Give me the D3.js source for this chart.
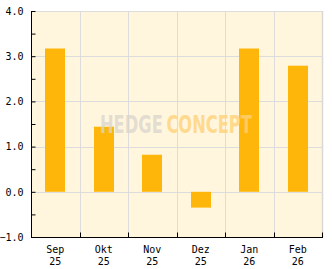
<!DOCTYPE html>
<html>
<head>
<meta charset="utf-8">
<script src="https://cdn.jsdelivr.net/npm/d3@7"></script>
<style>
  body { margin: 0; background: #fff; }
  svg { display: block; }
</style>
</head>
<body>
<svg id="chart"></svg>
<script>
// monthly values
var months = ["Sep", "Okt", "Nov", "Dez", "Jan", "Feb"];
var years = ["25", "25", "25", "25", "26", "26"];
var values = [3.17, 1.44, 0.82, -0.35, 3.17, 2.79];
var yTicks = [-1, 0, 1, 2, 3, 4];

(function() {
    var width = 332, height = 269;
    var margin = { top: 11, right: 10, bottom: 32, left: 31 };
    var x0 = margin.left, x1 = width - margin.right,
        y0 = margin.top, y1 = height - margin.bottom;

    var svg = d3.select("#chart")
        .attr("width", width)
        .attr("height", height);

    var x = d3.scaleBand()
        .domain(months)
        .range([x0, x1])
        .paddingInner(0.59)
        .paddingOuter(0.295);
    var step = (x1 - x0) / months.length;

    var y = d3.scaleLinear()
        .domain([-1, 4])
        .range([y1, y0]);

    // plot background
    svg.append("rect")
        .attr("x", x0).attr("y", y0)
        .attr("width", x1 - x0).attr("height", y1 - y0)
        .attr("fill", "#fff6dd");

    // grid
    var bounds = d3.range(1, months.length).map(i => x0 + i * step);
    svg.append("g").selectAll("line")
        .data(bounds).enter().append("line")
        .attr("x1", d => Math.round(d) + 0.5).attr("x2", d => Math.round(d) + 0.5)
        .attr("y1", y0).attr("y2", y1)
        .attr("stroke", "#dcdcdc");
    svg.append("g").selectAll("line")
        .data(yTicks.slice(1)).enter().append("line")
        .attr("x1", x0).attr("x2", x1)
        .attr("y1", d => Math.round(y(d)) + 0.5).attr("y2", d => Math.round(y(d)) + 0.5)
        .attr("stroke", "#dcdcdc");
    // right border
    svg.append("line")
        .attr("x1", x1 + 0.5).attr("x2", x1 + 0.5)
        .attr("y1", y0).attr("y2", y1)
        .attr("stroke", "#d8d8d8").attr("stroke-width", 1.5);

    // bars
    svg.append("g").selectAll("rect")
        .data(values).enter().append("rect")
        .attr("x", (d, i) => Math.round(x(months[i])))
        .attr("width", Math.round(x.bandwidth()))
        .attr("y", d => y(Math.max(0, d)))
        .attr("height", d => Math.abs(y(d) - y(0)))
        .attr("fill", "#ffb60b");

    // watermark, squeezed to fit 100..252
    var wmG = svg.append("g");
    var wm = wmG.append("text")
        .attr("x", 0).attr("y", 0)
        .attr("font-family", "'DejaVu Sans Condensed', 'DejaVu Sans', sans-serif")
        .attr("font-weight", "bold")
        .attr("font-size", 25);
    wm.append("tspan")
        .attr("fill", "#d9d5cc").attr("fill-opacity", 0.75)
        .text("HEDGE");
    wm.append("tspan")
        .attr("dx", 5)
        .attr("fill", "#ffd277").attr("fill-opacity", 0.8)
        .text("CONCEPT");
    var tw = wm.node().getComputedTextLength() + 5;
    wmG.attr("transform", "translate(100,133) scale(" + (152 / tw) + ",1)");

    // y axis
    var yAxis = svg.append("g")
        .attr("transform", "translate(" + (x0 + 0.5) + ",0)")
        .call(d3.axisLeft(y)
            .tickValues(d3.range(-1, 4.01, 0.5))
            .tickSize(-4)
            .tickPadding(8)
            .tickFormat(d => Number.isInteger(d) ? d3.format(".1f")(d) : ""));
    yAxis.select(".domain").attr("d", "M0," + y1 + "V" + y0);
    yAxis.selectAll("text")
        .attr("font-family", "'DejaVu Sans Mono', monospace")
        .attr("font-size", 10)
        .attr("fill", "#000");

    // x axis
    var xAxis = svg.append("g")
        .attr("transform", "translate(0," + (y1 + 0.5) + ")");
    xAxis.append("line")
        .attr("x1", x0).attr("x2", x1 + 1)
        .attr("stroke", "#000");
    xAxis.selectAll(".tk")
        .data(bounds.concat([x1])).enter().append("line")
        .attr("x1", d => Math.round(d) + 0.5).attr("x2", d => Math.round(d) + 0.5)
        .attr("y1", 0).attr("y2", -5)
        .attr("stroke", "#000");
    var lbl = xAxis.selectAll(".lbl")
        .data(months).enter().append("text")
        .attr("x", d => x(d) + x.bandwidth() / 2)
        .attr("text-anchor", "middle")
        .attr("font-family", "'DejaVu Sans Mono', monospace")
        .attr("font-size", 10)
        .attr("fill", "#000");
    lbl.append("tspan").attr("x", d => x(d) + x.bandwidth() / 2).attr("y", 15).text(d => d);
    lbl.append("tspan").attr("x", d => x(d) + x.bandwidth() / 2).attr("y", 27).text((d, i) => years[i]);
})();
</script>
</body>
</html>
